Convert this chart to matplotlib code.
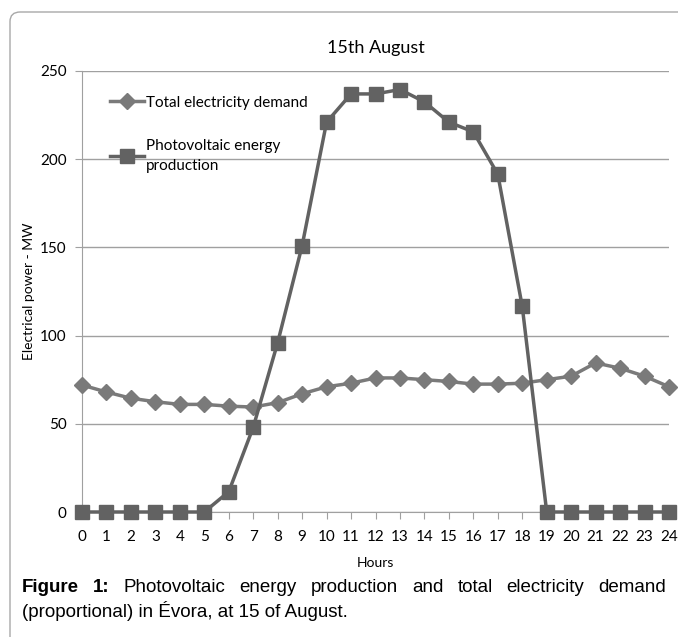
import matplotlib
matplotlib.use("Agg")
import matplotlib.pyplot as plt
from matplotlib.patches import FancyBboxPatch

hours = list(range(25))
demand = [72, 68, 64.5, 62.5, 61, 61, 60, 59.5, 62, 67, 71, 73, 76, 76, 75,
          74, 72.5, 72.5, 73, 75, 77, 84.5, 81.5, 77, 71]
pv = [0, 0, 0, 0, 0, 0, 11.5, 48, 96, 151, 221, 237, 237, 239.5, 232.5,
      221, 215.5, 191.5, 116.5, 0, 0, 0, 0, 0, 0]
yticks = [0, 50, 100, 150, 200, 250]

caption_words = ["Figure", "1:", "Photovoltaic", "energy", "production", "and",
                 "total", "electricity", "demand"]
caption_line2 = "(proportional) in Évora, at 15 of August."

chart_font = ["Lato", "DejaVu Sans"]
cap_font = ["Liberation Sans", "DejaVu Sans"]

fig = plt.figure(figsize=(6.78, 6.37), dpi=100)
W, H = 678.0, 637.0

# rounded frame around the chart
frame = FancyBboxPatch((10 / W, -0.05), 1.1, 1 - 12 / H + 0.05,
                       boxstyle="round,pad=0,rounding_size=0.015",
                       transform=fig.transFigure, facecolor="none",
                       edgecolor="#a8a8a8", linewidth=1.0, clip_on=False)
fig.patches.append(frame)

ax = fig.add_axes([82 / W, 1 - 512 / H, 587 / W, 441 / H])

ax.plot(hours, demand, color="#7a7a7a", marker="D", markersize=8,
        linewidth=2.5, label="Total electricity demand", clip_on=False, zorder=3)
ax.plot(hours, pv, color="#626262", marker="s", markersize=10,
        linewidth=2.5, label="Photovoltaic energy\nproduction", clip_on=False, zorder=4)

ax.set_xlim(0, 24)
ax.set_ylim(0, 250)
ax.set_xticks(hours)
ax.set_yticks(yticks)
ax.grid(axis="y", color="#a0a0a0", linewidth=1)
ax.set_axisbelow(True)
for s in ["top", "right"]:
    ax.spines[s].set_visible(False)
for s in ["left", "bottom"]:
    ax.spines[s].set_color("#a0a0a0")
ax.tick_params(axis="both", colors="#a0a0a0", labelcolor="black", length=5,
               labelsize=11)
ax.tick_params(axis="x", pad=8)
ax.tick_params(axis="y", pad=6)
for lab in ax.get_xticklabels() + ax.get_yticklabels():
    lab.set_family(chart_font)

ax.set_title("15th August", fontsize=13, family=chart_font, pad=13)
ax.set_xlabel("Hours", fontsize=10, family=chart_font, labelpad=9)
ax.set_ylabel("Electrical power - MW", fontsize=10, family=chart_font, labelpad=4)

leg = ax.legend(loc="upper left", bbox_to_anchor=(0.025, 0.975), frameon=False,
                prop={"family": chart_font, "size": 11}, handlelength=2.2,
                labelspacing=1.9, handletextpad=0.15)
for t in leg.get_texts():
    t.set_linespacing(1.6)

# caption, first line justified
fig.canvas.draw()
r = fig.canvas.get_renderer()
x0, x1 = 22.0, 666.0
y1 = 1 - 588 / H
items = []
for i, w in enumerate(caption_words):
    t = fig.text(0, y1, w, fontsize=13.5, family=cap_font, va="center",
                 fontweight="bold" if i < 2 else "normal")
    items.append(t)
widths = [t.get_window_extent(r).width for t in items]
gap = (x1 - x0 - sum(widths)) / (len(items) - 1)
x = x0
for t, wd in zip(items, widths):
    t.set_x(x / W)
    x += wd + gap
fig.text(x0 / W, 1 - 611 / H, caption_line2, fontsize=13.5, family=cap_font,
         va="center")

fig.savefig("out.png", dpi=100)
